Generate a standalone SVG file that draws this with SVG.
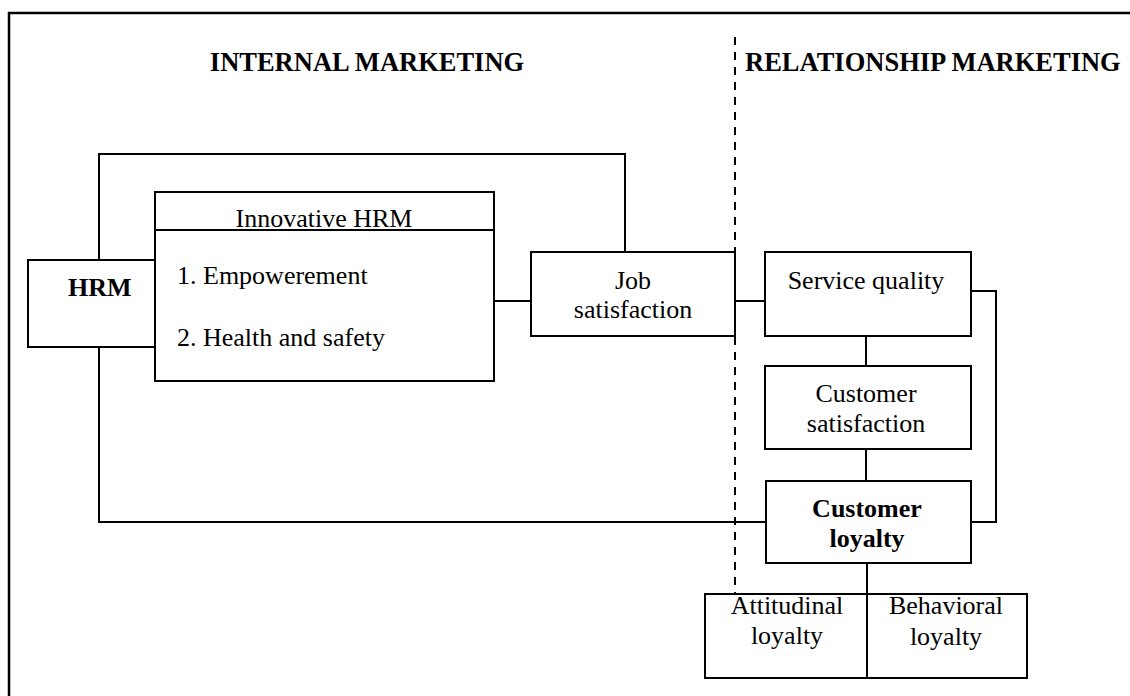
<svg xmlns="http://www.w3.org/2000/svg" width="1130" height="696" viewBox="0 0 1130 696">
<style>
.box{fill:#fff;stroke:#000;stroke-width:2}
.ln{fill:none;stroke:#000;stroke-width:2}
.t{font-family:"Liberation Serif","Times New Roman",serif;font-size:26px;fill:#000}
.c{text-anchor:middle}
.b{font-weight:bold}
.h{font-family:"Liberation Serif","Times New Roman",serif;font-size:26.5px;font-weight:bold;fill:#000}
</style>
<rect x="0" y="0" width="1130" height="696" fill="#fff"/>
<path d="M9,700 V13 H1135" fill="none" stroke="#000" stroke-width="2.5"/>
<text class="h" x="367" y="71" text-anchor="middle">INTERNAL MARKETING</text>
<text class="h" x="745" y="71">RELATIONSHIP MARKETING</text>
<line x1="735" y1="37" x2="735" y2="594" stroke="#000" stroke-width="2" stroke-dasharray="8,7"/>
<g id="connectors">
<path class="ln" d="M99,260 V154 H625 V252"/>
<path class="ln" d="M99,347 V522 H766"/>
<path class="ln" d="M494,301 H531"/>
<path class="ln" d="M735,301 H765"/>
<path class="ln" d="M866,336 V366"/>
<path class="ln" d="M866,449 V481"/>
<path class="ln" d="M971,291 H996 V522 H971"/>
<path class="ln" d="M867,563 V594"/>
</g>
<g id="hrm">
<rect class="box" x="28" y="260" width="127" height="87"/>
<text class="t b" x="68" y="296">HRM</text>
</g>
<g id="innovative-hrm">
<rect class="box" x="155" y="192" width="339" height="189"/>
<line class="ln" x1="155" y1="230" x2="494" y2="230"/>
<text class="t c" x="324" y="227">Innovative HRM</text>
<text class="t" x="177" y="284">1. Empowerement</text>
<text class="t" x="177" y="346">2. Health and safety</text>
</g>
<g id="job-satisfaction">
<rect class="box" x="531" y="252" width="204" height="84"/>
<text class="t c" x="633" y="289">Job</text>
<text class="t c" x="633" y="318">satisfaction</text>
</g>
<g id="service-quality">
<rect class="box" x="765" y="252" width="206" height="84"/>
<text class="t c" x="866" y="289">Service quality</text>
</g>
<g id="customer-satisfaction">
<rect class="box" x="765" y="366" width="206" height="83"/>
<text class="t c" x="866" y="402">Customer</text>
<text class="t c" x="866" y="432">satisfaction</text>
</g>
<g id="customer-loyalty">
<rect class="box" x="766" y="481" width="205" height="82"/>
<text class="t c b" x="867" y="517">Customer</text>
<text class="t c b" x="867" y="547">loyalty</text>
</g>
<g id="attitudinal-loyalty">
<rect class="box" x="705" y="594" width="162" height="84"/>
<text class="t c" x="787" y="614">Attitudinal</text>
<text class="t c" x="787" y="644">loyalty</text>
</g>
<g id="behavioral-loyalty">
<rect class="box" x="867" y="594" width="160" height="84"/>
<text class="t c" x="946" y="614">Behavioral</text>
<text class="t c" x="946" y="645">loyalty</text>
</g>
</svg>
